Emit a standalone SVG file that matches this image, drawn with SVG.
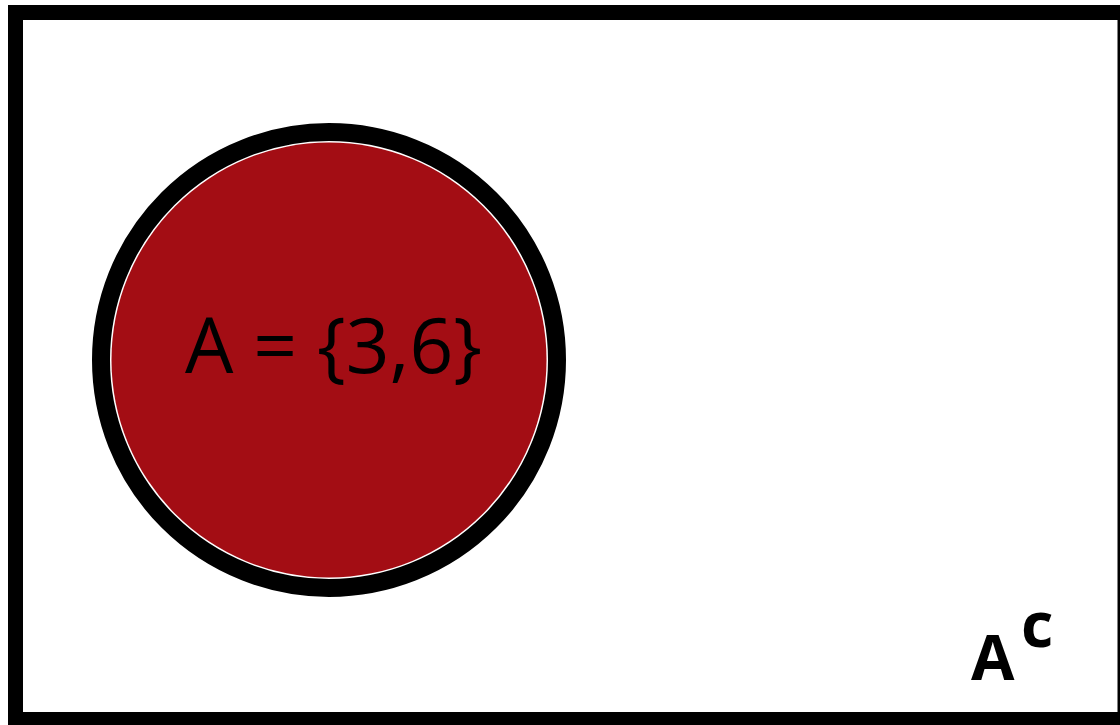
<svg xmlns="http://www.w3.org/2000/svg" width="1120" height="725" viewBox="0 0 1120 725">
  <style>
    .lbl { font-family: "Open Sans", "Liberation Sans", sans-serif; fill: #000; }
    .main { font-size: 77px; }
    .comp { font-size: 63px; font-weight: bold; }
  </style>
  <rect x="0" y="0" width="1120" height="725" fill="#ffffff"/>
  <g id="universe">
    <rect x="15.5" y="12.5" width="1109.5" height="707" fill="none" stroke="#000" stroke-width="15"/>
    <text class="lbl comp" x="971" y="680">A</text>
    <text class="lbl comp" x="1021" y="647" font-size="64">c</text>
  </g>
  <g id="setA">
    <circle cx="329" cy="360" r="228" fill="#ffffff" stroke="#000" stroke-width="18"/>
    <circle cx="329" cy="360" r="217.5" fill="#A30D14"/>
    <text class="lbl main" x="185" y="373" textLength="297" lengthAdjust="spacingAndGlyphs">A = {3,6}</text>
  </g>
</svg>
